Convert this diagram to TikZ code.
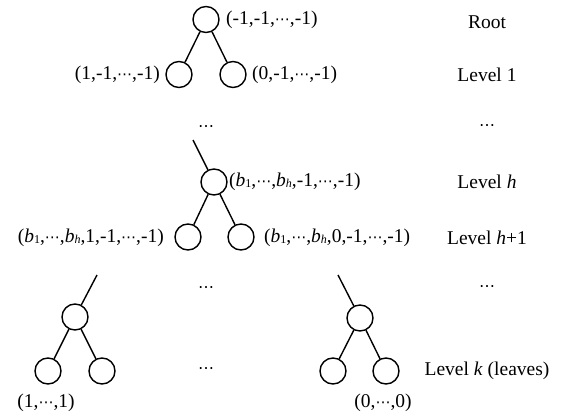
\documentclass[tikz,border=0pt]{standalone}
\usepackage{fontspec}
\setmainfont{Liberation Serif}
\newfontfamily\djv{DejaVu Sans}
\newcommand{\cd}{{\djv\fontsize{15}{15}\selectfont ⋯}}
\newcommand{\rowdots}{{\djv\fontsize{16}{16}\selectfont ⋯}}
\newcommand{\bone}{\textit{b}{\fontsize{12}{12}\selectfont\raisebox{-0.1em}{1}}}
\newcommand{\bh}{\textit{b}{\fontsize{12}{12}\selectfont\raisebox{-0.1em}{\textit{h}}}}
\begin{document}
\begin{tikzpicture}[x=1pt,y=-1pt,
  nd/.style={circle,draw,line width=1.4pt,minimum size=26pt,inner sep=0pt},
  lab/.style={inner sep=0pt,font=\fontsize{19.5}{22}\selectfont},
  edge/.style={line width=1.4pt}]
\useasboundingbox (0,0) rectangle (563,420);
% top tree
\node[nd] (r) at (206,19.5) {};
\node[nd] (r1) at (179,74.5) {};
\node[nd] (r0) at (233,74.5) {};
\draw[edge] (r) -- (r1);
\draw[edge] (r) -- (r0);
\node[lab,anchor=west] (tr) at (226,20) {(-1,-1,\cd,-1)};
\node[lab,anchor=east] (tr1) at (160,74.5) {(1,-1,\cd,-1)};
\node[lab,anchor=west] (tr0) at (252,74.5) {(0,-1,\cd,-1)};
% level h
\node[lab] (d1) at (206,129) {\rowdots};
\coordinate (sh) at (193,140);
\node[nd] (h) at (214,182) {};
\node[nd] (h1) at (188,237) {};
\node[nd] (h0) at (241,237) {};
\draw[edge] (sh) -- (h);
\draw[edge] (h) -- (h1);
\draw[edge] (h) -- (h0);
\node[lab,anchor=west] (th) at (229,182) {(\bone,\cd,\bh,-1,\cd,-1)};
\node[lab,anchor=east] (th1) at (164,238) {(\bone,\cd,\bh,1,-1,\cd,-1)};
\node[lab,anchor=west] (th0) at (264,238) {(\bone,\cd,\bh,0,-1,\cd,-1)};
% left subtree
\coordinate (sl) at (97,275);
\node[nd] (l) at (75,317) {};
\node[nd] (l1) at (48,371) {};
\node[nd] (l0) at (102,371) {};
\draw[edge] (sl) -- (l);
\draw[edge] (l) -- (l1);
\draw[edge] (l) -- (l0);
\node[lab] (tl1) at (46,403) {(1,\cd,1)};
% right subtree
\coordinate (sr) at (338,275);
\node[nd] (m) at (360,318) {};
\node[nd] (m1) at (333,371) {};
\node[nd] (m0) at (386,371) {};
\draw[edge] (sr) -- (m);
\draw[edge] (m) -- (m1);
\draw[edge] (m) -- (m0);
\node[lab] (tm0) at (383,403) {(0,\cd,0)};
% middle dots
\node[lab] (d2) at (206,290) {\rowdots};
\node[lab] (d3) at (206,371) {\rowdots};
% right column
\node[lab] (c0) at (487,22) {Root};
\node[lab] (c1) at (487,74.5) {Level 1};
\node[lab] (c2) at (487,128) {\rowdots};
\node[lab] (c3) at (487,182) {Level \textit{h}};
\node[lab] (c4) at (487,238) {Level \textit{h}+1};
\node[lab] (c5) at (487,289) {\rowdots};
\node[lab] (c6) at (487,371) {Level \textit{k} (leaves)};
\end{tikzpicture}
\end{document}
